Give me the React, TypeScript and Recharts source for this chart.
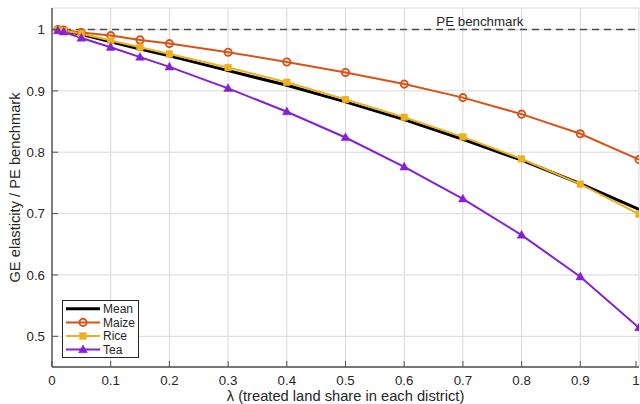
import React from 'react';
import {
  LineChart,
  Line,
  XAxis,
  YAxis,
  CartesianGrid,
  ReferenceLine,
  ReferenceDot,
  Legend,
} from 'recharts';

// ---------- data ----------
const lambdaValues = [0.01, 0.02, 0.05, 0.1, 0.15, 0.2, 0.3, 0.4, 0.5, 0.6, 0.7, 0.8, 0.9, 1.0];
const meanValues = [0.999, 0.998, 0.992, 0.98, 0.968, 0.957, 0.933, 0.909, 0.882, 0.853, 0.821, 0.787, 0.749, 0.707];
const maizeValues = [1.0, 0.999, 0.995, 0.99, 0.983, 0.977, 0.963, 0.947, 0.93, 0.911, 0.889, 0.862, 0.83, 0.788];
const riceValues = [0.999, 0.998, 0.993, 0.982, 0.971, 0.96, 0.938, 0.914, 0.886, 0.857, 0.825, 0.789, 0.748, 0.699];
const teaValues = [0.998, 0.996, 0.986, 0.971, 0.955, 0.939, 0.904, 0.866, 0.824, 0.776, 0.724, 0.665, 0.597, 0.514];

const seriesNames = ['Mean', 'Maize', 'Rice', 'Tea'];
const xTicks = [0, 0.1, 0.2, 0.3, 0.4, 0.5, 0.6, 0.7, 0.8, 0.9, 1];
const yTicks = [0.5, 0.6, 0.7, 0.8, 0.9, 1];
const xDomain = [0, 1];
const yDomain = [0.45, 1.035];
const benchmarkValue = 1;
const benchmarkLabel = 'PE benchmark';
const benchmarkLabelX = 0.729;
const xLabel = 'λ (treated land share in each district)';
const yLabel = 'GE elasticity / PE benchmark';

const data = lambdaValues.map((x, i) => ({
  x,
  Mean: meanValues[i],
  Maize: maizeValues[i],
  Rice: riceValues[i],
  Tea: teaValues[i],
}));

// ---------- styles ----------
const FONT = '"Liberation Sans", Arial, Helvetica, sans-serif';
const TEXT = '#262626';
const AXIS = '#505050';
const GRID = '#d9d9d9';
const COLORS: Record<string, string> = {
  Mean: '#000000',
  Maize: '#D95319',
  Rice: '#EDB120',
  Tea: '#8420D6',
};
const WIDTHS: Record<string, number> = { Mean: 3, Maize: 2, Rice: 2, Tea: 2 };
const MARKERS: Record<string, string> = { Mean: 'none', Maize: 'circle', Rice: 'square', Tea: 'triangle' };

const TICK_FS = 13.3;
const LABEL_FS = 14.7;
const TICK_LEN = 6;

const fmt = (v: number) => String(v);

function marker(kind: string, cx: number, cy: number, color: string, key?: any) {
  if (kind === 'circle')
    return <circle key={key} cx={cx} cy={cy} r={3.6} fill="none" stroke={color} strokeWidth={1.9} />;
  if (kind === 'square')
    return <rect key={key} x={cx - 3.3} y={cy - 3.3} width={6.6} height={6.6} fill={color} stroke={color} strokeWidth={0.5} />;
  if (kind === 'triangle')
    return (
      <polygon
        key={key}
        points={`${cx},${cy - 4.7} ${cx - 4.4},${cy + 3.1} ${cx + 4.4},${cy + 3.1}`}
        fill={color}
        stroke={color}
        strokeWidth={0.5}
      />
    );
  return <g key={key} />;
}

const makeDot = (name: string) => (props: any) => {
  const { cx, cy, index } = props;
  if (cx == null || cy == null) return <g key={`d-${name}-${index}`} />;
  return marker(MARKERS[name], cx, cy, COLORS[name], `d-${name}-${index}`);
};

const BottomTick = (props: any) => {
  const { x, y, payload } = props;
  return (
    <g>
      <line x1={x} y1={y} x2={x} y2={y - TICK_LEN} stroke={AXIS} strokeWidth={1} />
      <text x={x} y={y + 18} textAnchor="middle" fontSize={TICK_FS} fill={TEXT} fontFamily={FONT}>
        {fmt(payload.value)}
      </text>
    </g>
  );
};

const LeftTick = (props: any) => {
  const { x, y, payload } = props;
  return (
    <g>
      <line x1={x} y1={y} x2={x + TICK_LEN} y2={y} stroke={AXIS} strokeWidth={1} />
      <text x={x - 7} y={y + 4.7} textAnchor="end" fontSize={TICK_FS} fill={TEXT} fontFamily={FONT}>
        {fmt(payload.value)}
      </text>
    </g>
  );
};

const TopTick = (props: any) => {
  const { x, y } = props;
  return <line x1={x} y1={y} x2={x} y2={y + TICK_LEN} stroke={AXIS} strokeWidth={1} />;
};

const RightTick = (props: any) => {
  const { x, y } = props;
  return <line x1={x} y1={y} x2={x - TICK_LEN} y2={y} stroke={AXIS} strokeWidth={1} />;
};

const LegendBox = () => (
  <svg width={78} height={59} style={{ display: 'block' }}>
    <rect x={0.5} y={0.5} width={76} height={57} fill="#ffffff" stroke="#262626" strokeWidth={1} />
    {seriesNames.map((name, i) => {
      const cy = 8.8 + i * 13.6;
      return (
        <g key={name}>
          <line x1={4} y1={cy} x2={38} y2={cy} stroke={COLORS[name]} strokeWidth={WIDTHS[name]} />
          {marker(MARKERS[name], 21, cy, COLORS[name])}
          <text x={41} y={cy + 4.3} fontSize={12} fill={TEXT} fontFamily={FONT}>
            {name}
          </text>
        </g>
      );
    })}
  </svg>
);

export default function App() {
  return (
    <div style={{ position: 'absolute', left: 0, top: 0, width: 640, height: 404, background: '#ffffff' }}>
      <LineChart width={640} height={404} data={data} margin={{ top: 8, right: 1, bottom: 0, left: 0 }}>
        <CartesianGrid stroke={GRID} strokeWidth={1} />
        <XAxis
          dataKey="x"
          type="number"
          domain={xDomain}
          ticks={xTicks}
          allowDataOverflow
          height={37}
          tickSize={0}
          tickMargin={0}
          tick={<BottomTick />}
          tickLine={false}
          axisLine={{ stroke: AXIS, strokeWidth: 1.4 }}
          label={{
            value: xLabel,
            position: 'insideBottom',
            offset: 3,
            style: { fontSize: LABEL_FS, fill: TEXT, fontFamily: FONT },
          }}
        />
        <XAxis
          xAxisId="top"
          orientation="top"
          dataKey="x"
          type="number"
          domain={xDomain}
          ticks={xTicks}
          allowDataOverflow
          height={0}
          tickSize={0}
          tickMargin={0}
          tick={<TopTick />}
          tickLine={false}
          axisLine={{ stroke: AXIS, strokeWidth: 1.4 }}
        />
        <YAxis
          type="number"
          domain={yDomain}
          ticks={yTicks}
          allowDataOverflow
          width={52}
          tickSize={0}
          tickMargin={0}
          tick={<LeftTick />}
          tickLine={false}
          axisLine={{ stroke: AXIS, strokeWidth: 1.4 }}
          label={{
            value: yLabel,
            angle: -90,
            position: 'insideLeft',
            offset: 15,
            style: { textAnchor: 'middle', fontSize: LABEL_FS, fill: TEXT, fontFamily: FONT },
          }}
        />
        <YAxis
          yAxisId="right"
          orientation="right"
          type="number"
          domain={yDomain}
          ticks={yTicks}
          allowDataOverflow
          width={0}
          tickSize={0}
          tickMargin={0}
          tick={<RightTick />}
          tickLine={false}
          axisLine={{ stroke: AXIS, strokeWidth: 1.4 }}
        />
        <ReferenceLine y={benchmarkValue} stroke="#4a4a4a" strokeWidth={1.3} strokeDasharray="7 5" />
        <ReferenceDot
          x={benchmarkLabelX}
          y={benchmarkValue}
          r={0}
          fill="none"
          stroke="none"
          label={{
            value: benchmarkLabel,
            position: 'top',
            offset: 3,
            style: { fontSize: TICK_FS, fill: TEXT, fontFamily: FONT },
          }}
        />
        {seriesNames.map((name) => (
          <Line
            key={name}
            type="linear"
            dataKey={name}
            name={name}
            stroke={COLORS[name]}
            strokeWidth={WIDTHS[name]}
            dot={MARKERS[name] === 'none' ? false : makeDot(name)}
            activeDot={false}
            isAnimationActive={false}
          />
        ))}
        <Legend
          layout="vertical"
          align="center"
          verticalAlign="middle"
          content={() => <LegendBox />}
          wrapperStyle={{ position: 'absolute', left: 62, top: 300, width: 78, height: 59 }}
        />
      </LineChart>
    </div>
  );
}
